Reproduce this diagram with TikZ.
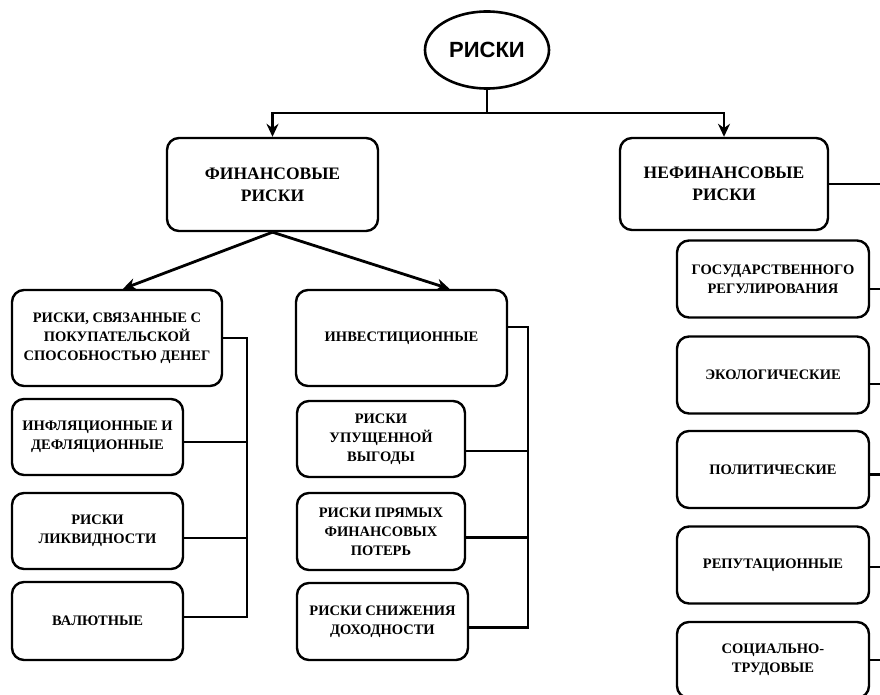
\documentclass[tikz,border=0pt]{standalone}
\usepackage{fontspec}
\setmainfont{Liberation Serif}
\newfontfamily\rootfont{Liberation Sans}
\usetikzlibrary{arrows.meta, shapes.geometric}

\tikzset{
    riskbox/.style={draw, rounded corners=12pt, line width=2.4pt, align=center, inner sep=0pt},
    topbox/.style={riskbox, font=\bfseries\fontsize{17.5}{22}\selectfont},
    subbox/.style={riskbox, font=\bfseries\fontsize{14.5}{19}\selectfont},
    wire/.style={line width=2.8pt},
    arr/.style={-{Stealth[length=13pt,width=12pt]}}
}

\begin{document}
\begin{tikzpicture}[x=1pt, y=-1pt]
    \useasboundingbox (0,0) rectangle (880,695);

    \node[draw, ellipse, line width=2.6pt, minimum width=124pt, minimum height=77pt,
          font=\rootfont\bfseries\fontsize{22}{26}\selectfont] (root) at (487,50) {РИСКИ};

    \node[topbox, minimum width=211pt, minimum height=93pt] (fin) at (272.5,184.5) {ФИНАНСОВЫЕ\\РИСКИ};
    \node[topbox, minimum width=208pt, minimum height=92pt] (nonfin) at (724,184) {НЕФИНАНСОВЫЕ\\РИСКИ};

    % financial, left column
    \node[subbox, minimum width=210pt, minimum height=96pt] (ppow) at (117,338) {РИСКИ, СВЯЗАННЫЕ С\\ПОКУПАТЕЛЬСКОЙ\\СПОСОБНОСТЬЮ ДЕНЕГ};
    \node[subbox, minimum width=171pt, minimum height=76pt] (infl) at (97.5,437) {ИНФЛЯЦИОННЫЕ И\\ДЕФЛЯЦИОННЫЕ};
    \node[subbox, minimum width=171pt, minimum height=76pt] (liq) at (97.5,531) {РИСКИ\\ЛИКВИДНОСТИ};
    \node[subbox, minimum width=171pt, minimum height=78pt] (curr) at (97.5,621) {ВАЛЮТНЫЕ};

    % financial, middle column
    \node[subbox, minimum width=211pt, minimum height=96pt] (invest) at (401.5,338) {ИНВЕСТИЦИОННЫЕ};
    \node[subbox, minimum width=168pt, minimum height=76pt] (lost) at (381,439) {РИСКИ\\УПУЩЕННОЙ\\ВЫГОДЫ};
    \node[subbox, minimum width=168pt, minimum height=77pt] (loss) at (381,531.5) {РИСКИ ПРЯМЫХ\\ФИНАНСОВЫХ\\ПОТЕРЬ};
    \node[subbox, minimum width=171pt, minimum height=77pt] (yield) at (382.5,621.5) {РИСКИ СНИЖЕНИЯ\\ДОХОДНОСТИ};

    % non-financial, right column
    \node[subbox, minimum width=192pt, minimum height=77pt] (gov) at (773,279) {ГОСУДАРСТВЕННОГО\\РЕГУЛИРОВАНИЯ};
    \node[subbox, minimum width=192pt, minimum height=77pt] (eco) at (773,375) {ЭКОЛОГИЧЕСКИЕ};
    \node[subbox, minimum width=192pt, minimum height=77pt] (pol) at (773,469.5) {ПОЛИТИЧЕСКИЕ};
    \node[subbox, minimum width=192pt, minimum height=77pt] (rep) at (773,565) {РЕПУТАЦИОННЫЕ};
    \node[subbox, minimum width=192pt, minimum height=76pt] (soc) at (773,660) {СОЦИАЛЬНО-\\ТРУДОВЫЕ};

    \coordinate (split) at (487,113);
    \coordinate (lbus) at (247,0);
    \coordinate (mbus) at (528,0);
    \coordinate (rbus) at (880,0);

    \draw[wire] (root) -- (split);
    \draw[wire, arr] (split) -| (fin.north);
    \draw[wire, arr] (split) -| (nonfin.north);

    \draw[wire, arr] (fin.south) -- ([xshift=6pt]ppow.north);
    \draw[wire, arr] (fin.south) -- ([xshift=48pt]invest.north);

    \draw[wire] (ppow.east) -| ([yshift=4pt]curr.east -| lbus) -- ([yshift=4pt]curr.east);
    \draw[wire] ([yshift=-5pt]infl.east) -- ([yshift=-5pt]infl.east -| lbus);
    \draw[wire] ([yshift=-7pt]liq.east) -- ([yshift=-7pt]liq.east -| lbus);

    \draw[wire] ([yshift=11pt]invest.east) -| ([yshift=-6pt]yield.east -| mbus) -- ([yshift=-6pt]yield.east);
    \draw[wire] ([yshift=-12pt]lost.east) -- ([yshift=-12pt]lost.east -| mbus);
    \draw[wire] ([yshift=-6pt]loss.east) -- ([yshift=-6pt]loss.east -| mbus);

    \draw[wire] (nonfin.east) -- (nonfin.east -| rbus);
    \draw[wire] ([yshift=-10pt]gov.east) -- ([yshift=-10pt]gov.east -| rbus);
    \draw[wire] ([yshift=-9pt]eco.east) -- ([yshift=-9pt]eco.east -| rbus);
    \draw[wire] ([yshift=-5pt]pol.east) -- ([yshift=-5pt]pol.east -| rbus);
    \draw[wire] ([yshift=-2pt]rep.east) -- ([yshift=-2pt]rep.east -| rbus);
    \draw[wire] (soc.east) -- (soc.east -| rbus);
\end{tikzpicture}
\end{document}
